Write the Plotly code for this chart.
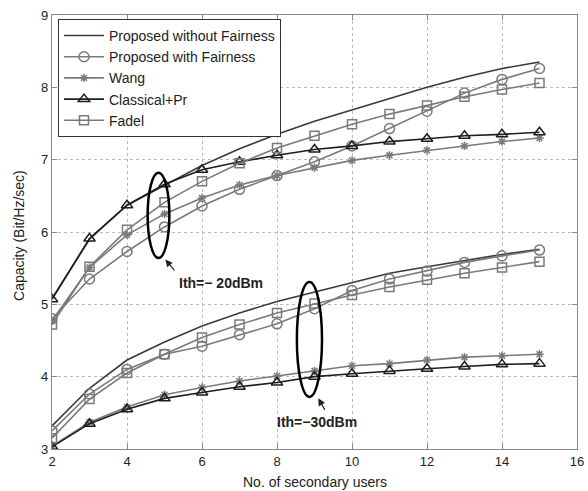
import plotly.graph_objects as go

users = [2, 3, 4, 5, 6, 7, 8, 9, 10, 11, 12, 13, 14, 15]

# Ith = -20 dBm
no_fair_20 = [5.08, 5.90, 6.37, 6.65, 6.92, 7.15, 7.35, 7.53, 7.69, 7.85, 8.00, 8.14, 8.26, 8.35]
fair_20 = [4.80, 5.35, 5.73, 6.07, 6.36, 6.59, 6.78, 6.97, 7.19, 7.43, 7.67, 7.92, 8.11, 8.26]
wang_20 = [4.77, 5.51, 5.96, 6.25, 6.47, 6.65, 6.78, 6.89, 6.99, 7.06, 7.13, 7.19, 7.25, 7.30]
classical_20 = [5.07, 5.91, 6.37, 6.66, 6.86, 6.97, 7.06, 7.14, 7.19, 7.25, 7.29, 7.33, 7.35, 7.38]
fadel_20 = [4.72, 5.52, 6.03, 6.41, 6.70, 6.95, 7.16, 7.33, 7.49, 7.63, 7.75, 7.87, 7.97, 8.06]

# Ith = -30 dBm
no_fair_30 = [3.32, 3.84, 4.23, 4.48, 4.70, 4.88, 5.04, 5.17, 5.31, 5.43, 5.52, 5.61, 5.69, 5.76]
fair_30 = [3.25, 3.76, 4.10, 4.31, 4.42, 4.58, 4.73, 4.94, 5.19, 5.35, 5.46, 5.58, 5.67, 5.75]
wang_30 = [3.04, 3.37, 3.58, 3.75, 3.85, 3.94, 4.01, 4.08, 4.15, 4.18, 4.23, 4.27, 4.29, 4.31]
classical_30 = [3.03, 3.35, 3.55, 3.70, 3.78, 3.86, 3.92, 4.00, 4.04, 4.08, 4.11, 4.14, 4.17, 4.18]
fadel_30 = [3.15, 3.69, 4.05, 4.31, 4.54, 4.72, 4.88, 5.01, 5.13, 5.24, 5.34, 5.43, 5.51, 5.59]

names = ["Proposed without Fairness", "Proposed with Fairness", "Wang", "Classical+Pr", "Fadel"]
x_ticks = [2, 4, 6, 8, 10, 12, 14, 16]
y_ticks = [3, 4, 5, 6, 7, 8, 9]

FONT = "Liberation Sans, Arial, Helvetica, sans-serif"

styles = [
    dict(color="#3a3a3a", symbol=None, size=0, width=1.6),
    dict(color="#7a7a7a", symbol="circle-open", size=10, width=1.6),
    dict(color="#7a7a7a", symbol="asterisk-open", size=7, width=1.6),
    dict(color="#1e1e1e", symbol="triangle-up-open", size=10, width=1.6),
    dict(color="#7a7a7a", symbol="square-open", size=9, width=1.6),
]

fig = go.Figure()
groups = [
    [no_fair_20, fair_20, wang_20, classical_20, fadel_20],
    [no_fair_30, fair_30, wang_30, classical_30, fadel_30],
]
for gi, grp in enumerate(groups):
    for i, ys in enumerate(grp):
        st = styles[i]
        mode = "lines" if st["symbol"] is None else "lines+markers"
        marker = None if st["symbol"] is None else dict(
            symbol=st["symbol"], size=st["size"], color=st["color"],
            line=dict(color=st["color"], width=1.5))
        fig.add_trace(go.Scatter(
            x=users, y=ys, mode=mode, name=names[i], legendgroup=names[i],
            showlegend=(gi == 0), line=dict(color=st["color"], width=st["width"]),
            marker=marker))

# ellipses
fig.add_shape(type="circle", xref="x", yref="y", x0=4.55, x1=5.13, y0=5.64, y1=6.82,
              line=dict(color="black", width=2.5))
fig.add_shape(type="circle", xref="x", yref="y", x0=8.53, x1=9.2, y0=3.72, y1=5.31,
              line=dict(color="black", width=2.5))

fig.add_annotation(x=5.02, y=5.62, ax=5.3, ay=5.45, xref="x", yref="y", axref="x", ayref="y",
                   showarrow=True, arrowhead=2, arrowsize=1.2, arrowwidth=1.2, arrowcolor="#222", text="")
fig.add_annotation(x=6.5, y=5.29, xref="x", yref="y", text="<b>Ith=− 20dBm</b>", showarrow=False,
                   font=dict(family=FONT, size=14, color="#222"))
fig.add_annotation(x=9.1, y=3.7, ax=9.3, ay=3.52, xref="x", yref="y", axref="x", ayref="y",
                   showarrow=True, arrowhead=2, arrowsize=1.2, arrowwidth=1.2, arrowcolor="#222", text="")
fig.add_annotation(x=9.07, y=3.38, xref="x", yref="y", text="<b>Ith=−30dBm</b>", showarrow=False,
                   font=dict(family=FONT, size=14, color="#222"))

# axis titles
fig.add_annotation(x=-0.063, y=0.493, xref="paper", yref="paper", xanchor="center", yanchor="middle",
                   text="Capacity (Bit/Hz/sec)", textangle=-90, showarrow=False,
                   font=dict(family=FONT, size=14, color="#222"))
fig.add_annotation(x=0.5, y=-0.076, xref="paper", yref="paper", xanchor="center", yanchor="middle",
                   text="No. of secondary users", showarrow=False,
                   font=dict(family=FONT, size=14, color="#222"))

axis_common = dict(
    showline=True, linecolor="#888", linewidth=1.2, mirror="ticks",
    ticks="inside", ticklen=5, tickcolor="#888", automargin=False,
    showgrid=True, gridcolor="#bbb", griddash="dot", gridwidth=1,
    zeroline=False, tickfont=dict(family=FONT, size=13, color="#222"),
)

fig.update_layout(
    width=588, height=491,
    margin=dict(l=52, r=11, t=15, b=42),
    paper_bgcolor="white", plot_bgcolor="white",
    font=dict(family=FONT, size=13, color="#222"),
    xaxis=dict(range=[2, 16], tickvals=x_ticks, **axis_common),
    yaxis=dict(range=[3, 9], tickvals=y_ticks, **axis_common),
    legend=dict(x=0.0114, y=0.991, xanchor="left", yanchor="top",
                bgcolor="white", bordercolor="#333", borderwidth=1,
                font=dict(family=FONT, size=14, color="#222"), tracegroupgap=0,
                itemwidth=40),
    showlegend=True,
)

fig.write_html("out.html", config={"displayModeBar": False},
               post_script="document.body.style.margin='0';document.body.style.padding='0';document.body.style.overflow='hidden';")
